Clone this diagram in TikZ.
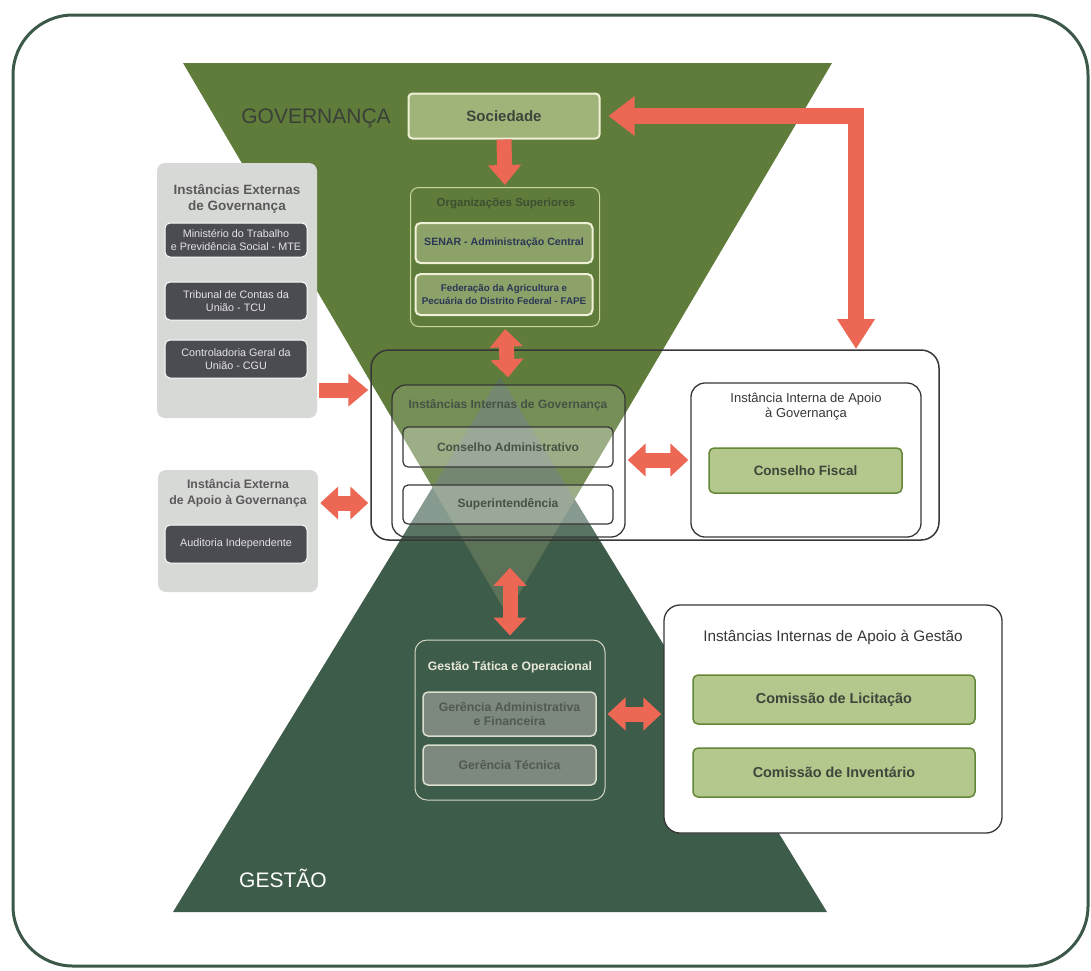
\documentclass[tikz,border=0pt]{standalone}
\usepackage{fontspec}
\setmainfont{Liberation Sans}
\usetikzlibrary{arrows.meta}
\definecolor{framec}{RGB}{60,88,72}
\definecolor{upperc}{RGB}{95,124,58}
\definecolor{lowerc}{RGB}{62,92,74}
\definecolor{overlapc}{RGB}{92,114,88}
\definecolor{arrowc}{RGB}{236,104,84}
\definecolor{sgreen}{RGB}{160,180,122}
\definecolor{cream}{RGB}{240,240,215}
\definecolor{cream2}{RGB}{200,215,160}
\definecolor{senarc}{RGB}{140,162,105}
\definecolor{navyc}{RGB}{45,55,85}
\definecolor{darktext}{RGB}{60,70,58}
\definecolor{boxgray}{RGB}{55,55,55}
\definecolor{cagreen}{RGB}{70,82,68}
\definecolor{cfill}{RGB}{180,199,140}
\definecolor{cdraw}{RGB}{100,135,55}
\definecolor{extfill}{RGB}{215,217,214}
\definecolor{darkfill}{RGB}{75,75,82}
\definecolor{darkfont}{RGB}{228,228,228}
\definecolor{titlegray}{RGB}{90,90,90}
\definecolor{gtodraw}{RGB}{210,215,195}
\definecolor{gerfill}{RGB}{125,136,126}
\definecolor{gerdraw}{RGB}{220,222,205}
\definecolor{gertext}{RGB}{80,90,80}
\definecolor{gtotext}{RGB}{232,232,215}
\definecolor{govtext}{RGB}{58,64,56}
\definecolor{orgtext}{RGB}{62,78,50}
\newcommand\fsz[2]{\fontsize{#1}{#2}\selectfont}
\begin{document}
\begin{tikzpicture}[x=1pt,y=-1pt,
  every node/.style={inner sep=0pt, align=center},
  socbox/.style={fill=sgreen, draw=cream, line width=2pt, rounded corners=4pt, font=\fsz{15}{17}\bfseries, text=darktext},
  orgbox/.style={draw=cream2, line width=1pt, rounded corners=8pt},
  senarbox/.style={fill=senarc, draw=cream, line width=2pt, rounded corners=5pt, text=navyc},
  bigbox/.style={draw=boxgray, line width=1.5pt, rounded corners=18pt},
  iigbox/.style={draw=boxgray, line width=1.3pt, rounded corners=14pt, fill=white, fill opacity=0.15, text opacity=1},
  cabox/.style={draw=boxgray, line width=1.2pt, rounded corners=5pt, fill=white, fill opacity=0.28, text opacity=1, font=\fsz{12}{14}\bfseries, text=cagreen},
  whitebox/.style={fill=white, draw=boxgray, line width=1.3pt, rounded corners=14pt},
  greenbox/.style={fill=cfill, draw=cdraw, line width=1.5pt, rounded corners=5pt, text=darktext},
  extbox/.style={fill=extfill, rounded corners=8pt},
  darkbox/.style={fill=darkfill, draw=white, line width=1pt, rounded corners=5pt, font=\fsz{10.8}{13.5}, text=darkfont},
  gtobox/.style={draw=gtodraw, line width=1pt, rounded corners=12pt},
  gerbox/.style={fill=gerfill, draw=gerdraw, line width=1.5pt, rounded corners=5pt, font=\fsz{12.3}{14}\bfseries, text=gertext},
  exttitle/.style={font=\fsz{13.5}{16.5}\bfseries, text=titlegray},
  fat/.style={draw=arrowc, line width=15pt, miter limit=10},
  one/.style={fat, -{Triangle[length=20pt,width=32pt]}},
  two/.style={fat, {Triangle[length=18pt,width=32pt]}-{Triangle[length=18pt,width=32pt]}},
  bigtwo/.style={draw=arrowc, line width=16pt, {Triangle[length=26pt,width=38pt]}-{Triangle[length=30pt,width=36pt]}}
]
\useasboundingbox (0,0) rectangle (1091,970);
% outer frame
\draw[framec, line width=3pt, rounded corners=60pt] (13,15) rectangle (1088,966);
% triangles
\fill[lowerc] (173,912) -- (827,912) -- (500,377) -- cycle;
\fill[upperc] (183,63) -- (832,63) -- (507,614) -- cycle;
\begin{scope}
  \clip (183,63) -- (832,63) -- (507,614) -- cycle;
  \fill[overlapc] (173,912) -- (827,912) -- (500,377) -- cycle;
\end{scope}
\node[font=\fsz{21}{24}, text=govtext] (gov) at (316,118) {GOVERNANÇA};
\node[font=\fsz{21}{24}, text=white] (ges) at (283,878) {GESTÃO};

% Sociedade
\node[socbox, minimum width=191pt, minimum height=45pt] (soc) at (504,116) {Sociedade};
% Organizações Superiores
\node[orgbox, minimum width=189pt, minimum height=139pt] (org) at (505,257) {};
\node[font=\fsz{11.5}{13}\bfseries, text=orgtext] (orgt) at (506,204) {Organizações Superiores};
\node[senarbox, minimum width=177pt, minimum height=40pt, font=\fsz{10.6}{12}\bfseries] (senar) at (504,243) {SENAR - Administração Central};
\node[senarbox, minimum width=177pt, minimum height=41pt, font=\fsz{9.8}{13}\bfseries] (fape) at (504,294.5) {Federação da Agricultura e\\Pecuária do Distrito Federal - FAPE};

% big box
\node[bigbox, minimum width=568pt, minimum height=190pt] (big) at (655,445) {};
\node[iigbox, minimum width=233pt, minimum height=152pt] (iig) at (508.5,461) {};
\node[font=\fsz{12}{14}\bfseries, text=cagreen] (iigt) at (508,405) {Instâncias Internas de Governança};
\node[cabox, minimum width=210pt, minimum height=40pt] (ca) at (508,447) {Conselho Administrativo};
\node[cabox, minimum width=210pt, minimum height=39pt] (sup) at (508,504.5) {Superintendência};
\node[whitebox, minimum width=230pt, minimum height=154pt] (iag) at (806,460) {};
\node[font=\fsz{13}{15}, text=boxgray] (iagt) at (806,407) {Instância Interna de Apoio\\à Governança};
\node[greenbox, minimum width=193pt, minimum height=45pt, font=\fsz{13.5}{16}\bfseries] (cf) at (805.5,470.5) {Conselho Fiscal};

% external boxes
\node[extbox, minimum width=160pt, minimum height=255pt] (ext1) at (237,290.5) {};
\node[exttitle] (ext1t) at (237,199) {Instâncias Externas\\de Governança};
\node[darkbox, minimum width=142pt, minimum height=34pt] (mte) at (236,240) {Ministério do Trabalho\\e Previdência Social - MTE};
\node[darkbox, minimum width=142pt, minimum height=38pt] (tcu) at (236,301) {Tribunal de Contas da\\União - TCU};
\node[darkbox, minimum width=142pt, minimum height=38pt] (cgu) at (236,359) {Controladoria Geral da\\União - CGU};
\node[extbox, minimum width=160pt, minimum height=122pt] (ext2) at (238,531) {};
\node[exttitle, font=\fsz{12.3}{16}\bfseries] (ext2t) at (238,493) {Instância Externa\\de Apoio à Governança};
\node[darkbox, minimum width=142pt, minimum height=38pt] (aud) at (236,544) {Auditoria Independente};

% gestão tática
\node[gtobox, minimum width=190pt, minimum height=160pt] (gto) at (510,720) {};
\node[font=\fsz{12.2}{14}\bfseries, text=gtotext] (gtot) at (510,667) {Gestão Tática e Operacional};
\node[gerbox, minimum width=173pt, minimum height=44pt] (gaf) at (509.5,714) {Gerência Administrativa\\e Financeira};
\node[gerbox, minimum width=173pt, minimum height=40pt] (gt) at (509.5,765) {Gerência Técnica};

% apoio à gestão
\node[whitebox, rounded corners=16pt, minimum width=338pt, minimum height=228pt] (iagest) at (833,719) {};
\node[font=\fsz{15.3}{18}, text=boxgray] (iagestt) at (833,637) {Instâncias Internas de Apoio à Gestão};
\node[greenbox, minimum width=282pt, minimum height=49pt, font=\fsz{14.4}{17}\bfseries] (cl) at (834,699.5) {Comissão de Licitação};
\node[greenbox, minimum width=282pt, minimum height=49pt, font=\fsz{14.4}{17}\bfseries] (ci) at (834,772.5) {Comissão de Inventário};

% arrows
\coordinate (a3) at (0,390);
\coordinate (a4) at (0,503);
\coordinate (lend) at (856,349);
\draw[one, shorten >=2pt] (soc.south) -- (org.north);
\draw[two, shorten <=2pt, shorten >=7pt] (org.south) -- (iig.north);
\draw[one, shorten <=2pt, shorten >=2pt] (ext1.east |- a3) -- (big.west |- a3);
\draw[two, shorten <=2pt, shorten >=2pt] (ext2.east |- a4) -- (big.west |- a4);
\draw[two, shorten <=2pt, shorten >=2pt] (iig.east |- iag.west) -- (iag.west);
\draw[two, shorten <=27pt, shorten >=4pt] (gto.north |- big.south) -- (gto.north);
\draw[two, shorten <=2pt, shorten >=2pt] (gto.east |- gaf) -- (iagest.west |- gaf);
\draw[bigtwo, shorten <=8pt] (soc.east) -| (lend);
\end{tikzpicture}
\end{document}
